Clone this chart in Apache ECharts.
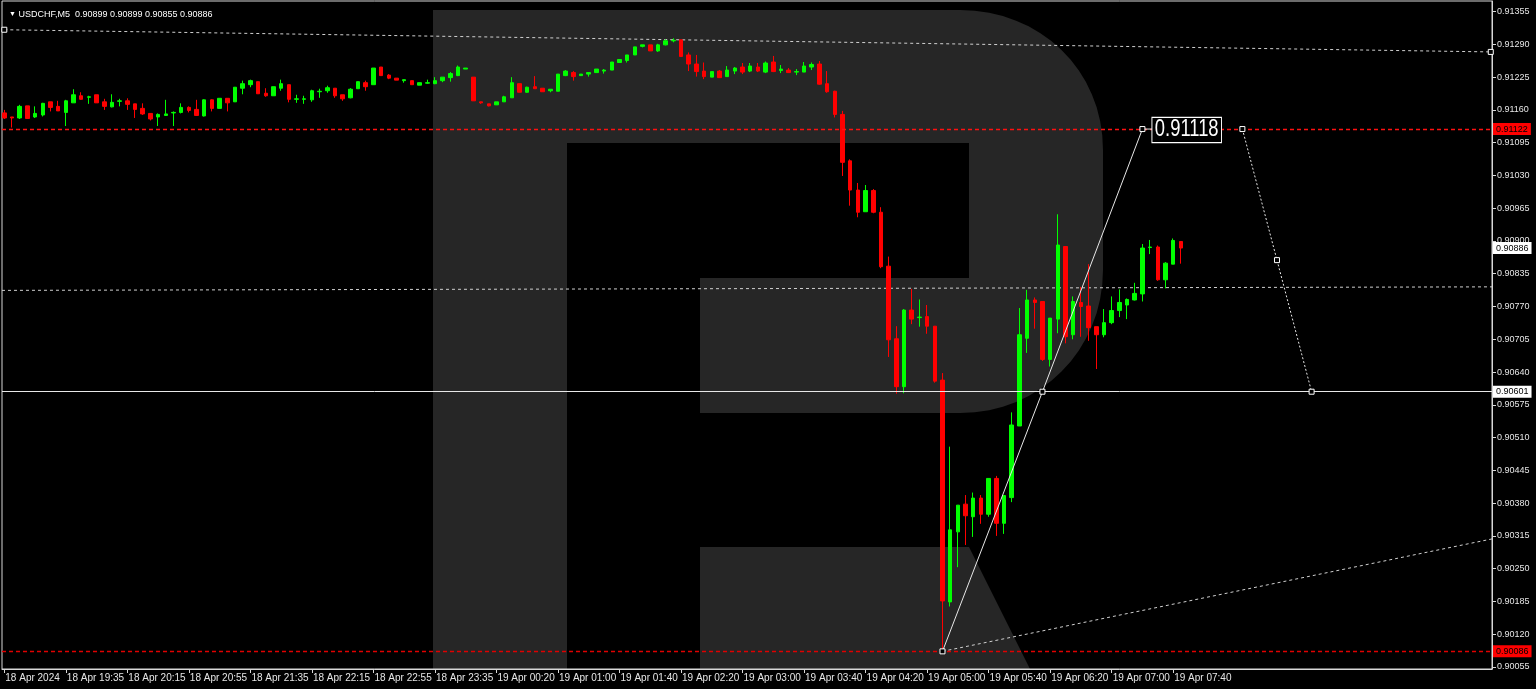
<!DOCTYPE html>
<html><head><meta charset="utf-8">
<script src="https://cdn.jsdelivr.net/npm/echarts@6/dist/echarts.min.js"></script>
<style>html,body{margin:0;padding:0;background:#000;}#c{width:1536px;height:689px;}</style>
</head><body><div id="c"></div>
<script>
const symbolName = 'USDCHF,M5';
const xTickBars = [0,8,16,24,32,40,48,56,64,72,80,88,96,104,112,120,128,136,144,152];
const xTickLabels = ['18 Apr 2024','18 Apr 19:35','18 Apr 20:15','18 Apr 20:55','18 Apr 21:35','18 Apr 22:15','18 Apr 22:55','18 Apr 23:35','19 Apr 00:20','19 Apr 01:00','19 Apr 01:40','19 Apr 02:20','19 Apr 03:00','19 Apr 03:40','19 Apr 04:20','19 Apr 05:00','19 Apr 05:40','19 Apr 06:20','19 Apr 07:00','19 Apr 07:40'];
const yTickValues = [0.91355,0.91290,0.91225,0.91160,0.91095,0.91030,0.90965,0.90900,0.90835,0.90770,0.90705,0.90640,0.90575,0.90510,0.90445,0.90380,0.90315,0.90250,0.90185,0.90120,0.90055];

const openP = [0.91154,0.91146,0.91144,0.91168,0.91146,0.91150,0.91176,0.91167,0.91155,0.91174,
0.91188,0.91185,0.91190,0.91176,0.91166,0.91177,0.91178,0.91172,0.91163,0.91153,
0.91146,0.91149,0.91154,0.91155,0.91165,0.91161,0.91148,0.91180,0.91163,0.91183,
0.91176,0.91203,0.91210,0.91216,0.91193,0.91188,0.91203,0.91210,0.91181,0.91181,
0.91180,0.91196,0.91198,0.91203,0.91190,0.91184,0.91202,0.91214,0.91210,0.91245,
0.91229,0.91223,0.91218,0.91218,0.91209,0.91213,0.91212,0.91218,0.91224,0.91228,
0.91241,0.91225,0.91176,0.91172,0.91170,0.91176,0.91184,0.91212,0.91195,0.91206,
0.91203,0.91198,0.91197,0.91228,0.91234,0.91228,0.91231,0.91234,0.91237,0.91239,
0.91254,0.91258,0.91269,0.91286,0.91289,0.91277,0.91289,0.91297,0.91299,0.91269,
0.91251,0.91237,0.91225,0.91237,0.91226,0.91237,0.91245,0.91237,0.91245,0.91235,
0.91255,0.91238,0.91239,0.91235,0.91235,0.91245,0.91251,0.91212,0.91197,0.91151,
0.91059,0.91001,0.90958,0.91000,0.90957,0.90850,0.90706,0.90611,0.90763,0.90748,
0.90750,0.90731,0.90624,0.90184,0.90323,0.90378,0.90353,0.90390,0.90358,0.90429,
0.90340,0.90391,0.90533,0.90707,0.90783,0.90780,0.90665,0.90745,0.90889,0.90714,
0.90778,0.90771,0.90730,0.90714,0.90738,0.90762,0.90773,0.90783,0.90795,0.90887,
0.90888,0.90823,0.90854,0.90899];
const closeP = [0.91144,0.91144,0.91167,0.91143,0.91153,0.91173,0.91165,0.91158,0.91178,0.91190,
0.91181,0.91186,0.91174,0.91167,0.91175,0.91178,0.91171,0.91161,0.91152,0.91142,
0.91151,0.91152,0.91155,0.91165,0.91159,0.91149,0.91180,0.91163,0.91183,0.91174,
0.91205,0.91212,0.91218,0.91192,0.91188,0.91206,0.91212,0.91181,0.91182,0.91182,
0.91198,0.91197,0.91204,0.91188,0.91182,0.91201,0.91216,0.91206,0.91243,0.91228,
0.91223,0.91219,0.91220,0.91210,0.91214,0.91214,0.91218,0.91225,0.91232,0.91245,
0.91243,0.91178,0.91174,0.91168,0.91176,0.91186,0.91214,0.91195,0.91205,0.91202,
0.91196,0.91201,0.91231,0.91237,0.91226,0.91231,0.91234,0.91241,0.91239,0.91255,
0.91260,0.91269,0.91285,0.91289,0.91277,0.91289,0.91297,0.91298,0.91266,0.91251,
0.91236,0.91226,0.91236,0.91224,0.91239,0.91243,0.91235,0.91247,0.91237,0.91253,
0.91236,0.91241,0.91234,0.91236,0.91247,0.91250,0.91211,0.91196,0.91151,0.91056,
0.91001,0.90957,0.91000,0.90957,0.90849,0.90704,0.90611,0.90763,0.90745,0.90749,
0.90731,0.90622,0.90186,0.90327,0.90376,0.90355,0.90390,0.90358,0.90429,0.90340,
0.90395,0.90535,0.90714,0.90783,0.90778,0.90665,0.90747,0.90892,0.90710,0.90780,
0.90770,0.90728,0.90714,0.90738,0.90762,0.90778,0.90784,0.90796,0.90886,0.90888,
0.90823,0.90856,0.90901,0.90886];
const lowP = [0.91142,0.91125,0.91142,0.91143,0.91144,0.91147,0.91157,0.91158,0.91128,0.91174,
0.91180,0.91172,0.91174,0.91160,0.91165,0.91167,0.91160,0.91144,0.91150,0.91139,
0.91128,0.91148,0.91128,0.91153,0.91155,0.91148,0.91147,0.91157,0.91163,0.91157,
0.91176,0.91191,0.91205,0.91192,0.91186,0.91188,0.91198,0.91175,0.91174,0.91172,
0.91176,0.91184,0.91194,0.91184,0.91178,0.91183,0.91202,0.91198,0.91210,0.91228,
0.91221,0.91219,0.91214,0.91210,0.91209,0.91212,0.91211,0.91215,0.91216,0.91227,
0.91241,0.91178,0.91172,0.91167,0.91170,0.91176,0.91184,0.91195,0.91194,0.91202,
0.91196,0.91195,0.91197,0.91227,0.91218,0.91228,0.91226,0.91234,0.91232,0.91239,
0.91254,0.91254,0.91269,0.91284,0.91277,0.91275,0.91288,0.91294,0.91266,0.91237,
0.91226,0.91221,0.91225,0.91224,0.91226,0.91231,0.91231,0.91235,0.91235,0.91233,
0.91235,0.91233,0.91234,0.91229,0.91235,0.91239,0.91210,0.91194,0.91145,0.91029,
0.90970,0.90947,0.90958,0.90955,0.90846,0.90670,0.90597,0.90598,0.90735,0.90730,
0.90716,0.90619,0.90086,0.90175,0.90253,0.90297,0.90313,0.90339,0.90353,0.90315,
0.90319,0.90382,0.90533,0.90678,0.90726,0.90662,0.90651,0.90717,0.90697,0.90705,
0.90710,0.90702,0.90646,0.90709,0.90735,0.90749,0.90745,0.90782,0.90780,0.90874,
0.90821,0.90806,0.90854,0.90855];
const highP = [0.91160,0.91146,0.91170,0.91168,0.91167,0.91174,0.91176,0.91178,0.91180,0.91201,
0.91195,0.91188,0.91190,0.91182,0.91191,0.91182,0.91183,0.91172,0.91173,0.91153,
0.91153,0.91180,0.91157,0.91173,0.91167,0.91180,0.91181,0.91181,0.91183,0.91183,
0.91205,0.91218,0.91220,0.91216,0.91203,0.91206,0.91220,0.91210,0.91190,0.91188,
0.91200,0.91202,0.91208,0.91203,0.91190,0.91203,0.91216,0.91218,0.91243,0.91245,
0.91231,0.91223,0.91220,0.91218,0.91214,0.91220,0.91225,0.91225,0.91235,0.91248,
0.91243,0.91225,0.91176,0.91172,0.91176,0.91188,0.91225,0.91212,0.91206,0.91227,
0.91203,0.91201,0.91231,0.91239,0.91237,0.91231,0.91234,0.91241,0.91241,0.91255,
0.91260,0.91269,0.91285,0.91289,0.91289,0.91291,0.91300,0.91302,0.91299,0.91274,
0.91269,0.91254,0.91236,0.91239,0.91247,0.91245,0.91253,0.91253,0.91253,0.91256,
0.91267,0.91249,0.91243,0.91241,0.91255,0.91254,0.91257,0.91237,0.91198,0.91158,
0.91062,0.91015,0.91011,0.91003,0.90967,0.90869,0.90731,0.90765,0.90805,0.90784,
0.90773,0.90731,0.90638,0.90492,0.90376,0.90396,0.90401,0.90396,0.90429,0.90434,
0.90395,0.90560,0.90767,0.90803,0.90788,0.90780,0.90747,0.90953,0.90889,0.90790,
0.90809,0.90854,0.90730,0.90765,0.90790,0.90804,0.90786,0.90817,0.90894,0.90902,
0.90891,0.90858,0.90905,0.90899];

const levelResistance = 0.91122;
const levelSupport = 0.90086;
const levelPivot = 0.90601;
const currentPrice = 0.90886;
const midDashed = [[-0.3, 0.90802], [193.46, 0.90809]];
const upperTrend = [[0, 0.91319], [193.3, 0.91275]];
const lowerTrend = [[122, 0.90086], [193.46, 0.90309]];
const forecastUp = [[122, 0.90086], [135, 0.90601], [148, 0.91122]];
const forecastDown = [[161, 0.91122], [165.5, 0.90862], [170, 0.90601]];
const forecastTarget = [149.3, 0.91122];
const forecastTargetText = '0.91118';

const FONT = "'Liberation Sans', Arial, sans-serif";
const candles = openP.map((o, i) => [i, o, closeP[i], lowP[i], highP[i]]);
const n = candles.length - 1;
const titleText = symbolName + '  ' + [openP[n], highP[n], lowP[n], closeP[n]].map(v => v.toFixed(5)).join(' ');

// background watermark outline (decoration, page pixels)
function bez(p0, p1, p2, p3, steps) {
  const out = [];
  for (let k = 1; k <= steps; k++) {
    const t = k / steps, u = 1 - t;
    out.push([u*u*u*p0[0] + 3*u*u*t*p1[0] + 3*u*t*t*p2[0] + t*t*t*p3[0],
              u*u*u*p0[1] + 3*u*u*t*p1[1] + 3*u*t*t*p2[1] + t*t*t*p3[1]]);
  }
  return out;
}
const bowl = [[567, 10], [960, 10]]
  .concat(bez([960, 10], [1040, 10], [1103, 70], [1103, 150], 16))
  .concat([[1103, 270]])
  .concat(bez([1103, 270], [1103, 350], [1040, 413], [960, 413], 16))
  .concat([[700, 413], [700, 278], [969, 278], [969, 143], [567, 143]]);

const sq = {symbol: 'rect', symbolSize: 5};
const chart = echarts.init(document.getElementById('c'), null, {renderer: 'canvas'});

function lvlLabel(bg, fg) {
  return {show: true, position: 'end', distance: 1, formatter: p => Number(p.value).toFixed(5),
    backgroundColor: bg, color: fg, fontSize: 9, fontFamily: FONT, padding: [2, 3, 1, 3], lineHeight: 9};
}

chart.setOption({
  animation: false,
  backgroundColor: '#000',
  title: {
    text: '{t|▼} ' + titleText, left: 4, top: 5,
    textStyle: {color: '#fff', fontSize: 9, fontWeight: 'normal', fontFamily: FONT,
      rich: {t: {fontSize: 7, color: '#fff'}}}
  },
  graphic: {elements: [
    {id: 'wm1', type: 'rect', z: -1, silent: true, shape: {x: 433, y: 10, width: 134, height: 659}, style: {fill: '#262626'}},
    {id: 'wm2', type: 'polygon', z: -1, silent: true, shape: {points: bowl}, style: {fill: '#262626'}},
    {id: 'wm3', type: 'polygon', z: -1, silent: true, shape: {points: [[700, 547], [969, 547], [1030, 669], [700, 669]]}, style: {fill: '#262626'}}
  ]},
  grid: {left: 2, right: 44, top: 1, bottom: 20, show: true, borderColor: '#d8d8d8', borderWidth: 1, backgroundColor: 'transparent'},
  xAxis: {
    type: 'value', min: -0.3, max: 193.46,
    splitLine: {show: false},
    axisLine: {show: true, onZero: false, lineStyle: {color: '#d8d8d8', width: 1}},
    axisTick: {show: true, customValues: xTickBars, length: 4, lineStyle: {color: '#d8d8d8'}},
    axisLabel: {show: true, customValues: xTickBars, margin: 4, align: 'left', padding: [0, 0, 0, 1],
      color: '#e6e6e6', fontSize: 10, fontFamily: FONT,
      formatter: v => xTickLabels[xTickBars.indexOf(Math.round(v))] || ''}
  },
  yAxis: {
    type: 'value', position: 'right', min: 0.90051, max: 0.91376, scale: true,
    splitLine: {show: false},
    axisLine: {show: true, onZero: false, lineStyle: {color: '#d8d8d8', width: 1}},
    axisTick: {show: true, customValues: yTickValues, length: 4, lineStyle: {color: '#d8d8d8'}},
    axisLabel: {show: true, customValues: yTickValues, margin: 5, color: '#e6e6e6', fontSize: 9, fontFamily: FONT,
      formatter: v => v.toFixed(5)}
  },
  series: [
    {
      type: 'line', data: midDashed, showSymbol: false, silent: true, z: 3,
      lineStyle: {color: '#d0d0d0', width: 1, type: [3, 3]},
      markLine: {
        silent: true, symbol: ['none', 'none'], animation: false, precision: 5,
        data: [
          {yAxis: levelResistance, lineStyle: {color: '#ff1010', width: 1.4, type: [4, 3], opacity: 1}, label: lvlLabel('#ff0000', '#000')},
          {yAxis: levelSupport, lineStyle: {color: '#e00000', width: 1.3, type: [4, 3], opacity: 1}, label: lvlLabel('#ff0000', '#000')},
          {yAxis: levelPivot, lineStyle: {color: '#e8e8e8', width: 1, type: 'solid', opacity: 1}, label: lvlLabel('#ffffff', '#000')},
          {yAxis: currentPrice, lineStyle: {color: 'rgba(0,0,0,0)', width: 1, type: 'solid'}, label: lvlLabel('#ffffff', '#000')}
        ]
      }
    },
    {
      type: 'line', data: upperTrend, silent: true, z: 3, ...sq, showSymbol: true,
      itemStyle: {color: '#000', borderColor: '#fff', borderWidth: 1},
      lineStyle: {color: '#d0d0d0', width: 1, type: [3, 3]}
    },
    {
      type: 'line', data: lowerTrend, silent: true, z: 3, showSymbol: false,
      lineStyle: {color: '#d0d0d0', width: 1, type: [3, 3]}
    },
    {
      type: 'candlestick', data: candles, encode: {x: 0, y: [1, 2, 3, 4]}, barWidth: 4, z: 4, silent: true,
      itemStyle: {color: '#00ff00', color0: '#ff0000', borderColor: '#00ff00', borderColor0: '#ff0000', borderWidth: 1}
    },
    {
      type: 'line', data: forecastUp, silent: true, z: 6, ...sq, showSymbol: true,
      itemStyle: {color: '#000', borderColor: '#fff', borderWidth: 1},
      lineStyle: {color: '#e8e8e8', width: 1}
    },
    {
      type: 'line', data: [forecastUp[forecastUp.length - 1], forecastTarget], silent: true, z: 5, showSymbol: false,
      lineStyle: {color: '#e8e8e8', width: 1}
    },
    {
      type: 'line', data: forecastDown, silent: true, z: 6, ...sq, showSymbol: true,
      itemStyle: {color: '#000', borderColor: '#fff', borderWidth: 1},
      lineStyle: {color: '#e8e8e8', width: 1, type: [2, 2]}
    }
  ]
});

// forecast target tag, anchored through the chart's own scales
const tp = chart.convertToPixel({xAxisIndex: 0, yAxisIndex: 0}, forecastTarget);
chart.setOption({graphic: {elements: [
  {id: 'target', type: 'text', x: tp[0], y: tp[1] + 1, scaleX: 0.8, z: 20, silent: true,
    style: {text: forecastTargetText, fill: '#fff', font: "23px 'Liberation Sans', Arial, sans-serif",
      align: 'left', verticalAlign: 'middle', backgroundColor: '#000', borderColor: '#fff', borderWidth: 1.2,
      padding: [1, 3, 0, 3]}}
]}});
</script></body></html>
